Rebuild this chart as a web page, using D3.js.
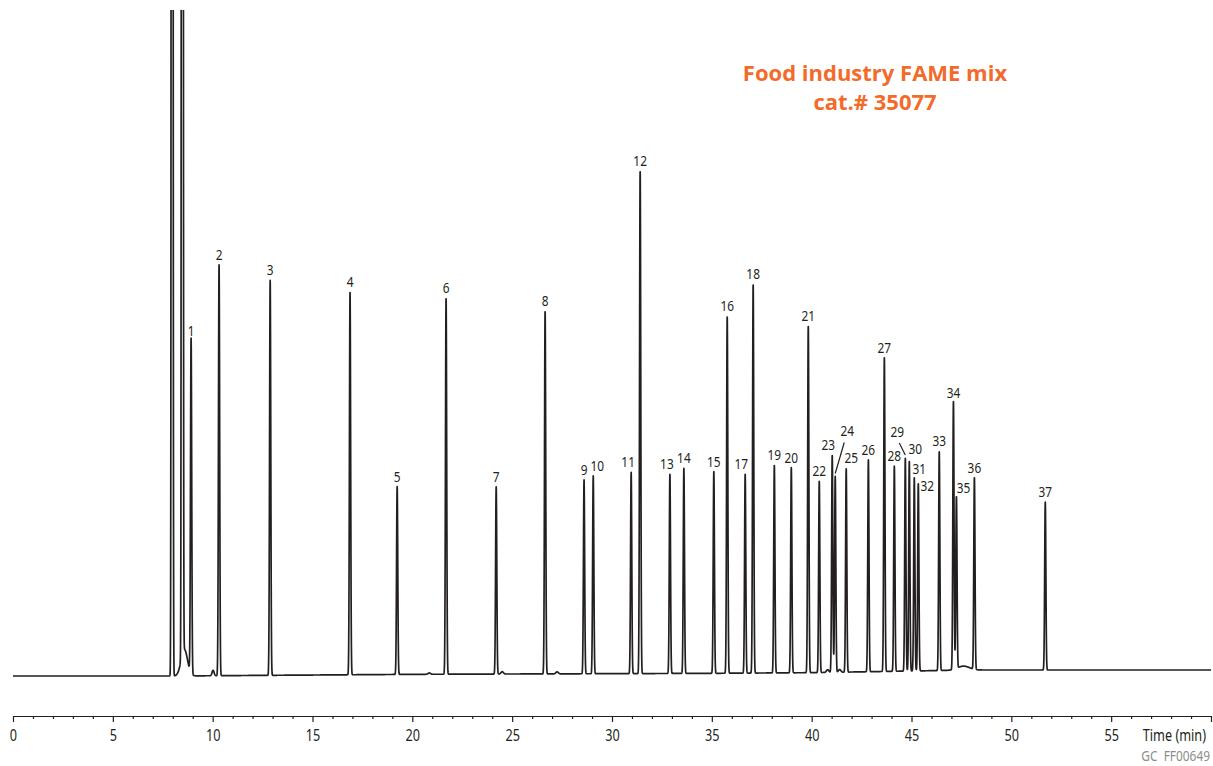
<!DOCTYPE html>
<html>
<head>
<meta charset="utf-8">
<script src="https://cdn.jsdelivr.net/npm/d3@7/dist/d3.min.js"></script>
<style>
  html, body { margin: 0; padding: 0; background: #ffffff; }
  svg { display: block; }
</style>
</head>
<body>
<svg id="chart" width="1213" height="766"></svg>
<script>
// ---------------- DATA ----------------
const peakNumbers = [1,2,3,4,5,6,7,8,9,10,11,12,13,14,15,16,17,18,19,20,21,22,23,24,25,26,27,28,29,30,31,32,33,34,35,36,37];
const retentionTimes = [8.92,10.32,12.88,16.88,19.24,21.69,24.20,26.65,28.60,29.06,30.96,31.41,32.90,33.60,35.10,35.77,36.67,37.07,38.13,38.98,39.83,40.38,41.03,41.18,41.73,42.84,43.64,44.14,44.69,44.89,45.14,45.34,46.39,47.10,47.25,48.15,51.70];
const peakHeights = [50.3,61.7,59.3,57.4,28.2,56.5,28.1,54.5,29.1,29.7,30.2,75.5,29.9,30.8,30.3,53.6,29.9,58.4,31.2,30.8,52.1,28.7,32.6,29.4,30.6,31.8,47.1,30.8,32.0,31.5,29.0,28.1,32.9,40.2,25.8,28.8,25.2];

// solvent peaks (off scale)
const solventTimes = [7.97, 8.48];
const solventHeights = [900, 1000];

// small unlabeled bumps / tailing on the trace
const minorTimes = [8.58, 10.02, 20.85, 24.50, 27.25, 40.80, 41.40, 47.60];
const minorHeights = [4.0, 0.8, 0.2, 0.35, 0.3, 0.4, 0.4, 0.6];
const minorWidths = [0.16, 0.05, 0.06, 0.06, 0.06, 0.06, 0.06, 0.3];

// baseline drift
const baselineTimes = [0, 8, 20, 35, 40, 45, 48, 60];
const baselineLevels = [0, 0, 0.25, 0.4, 0.5, 0.75, 0.9, 0.9];

// axis tick labels
const majorTicks = [0,5,10,15,20,25,30,35,40,45,50,55,60];
const majorTickLabels = ["0","5","10","15","20","25","30","35","40","45","50","55",""];

const titleLines = ["Food industry FAME mix", "cat.# 35077"];
const axisTitle = "Time (min)";
const figureCode = "GC  FF00649";

// ---------------- LAYOUT / STYLE ----------------
const inkColor = "#231f20";
const titleColor = "#f26b2a";
const labelFont = "'Noto Sans', 'Open Sans', sans-serif";
const condense = 0.82;           // horizontal squeeze to mimic the condensed face
const peakSigma = 0.03;          // drawing width of peaks (min)
const solventSigma = 0.026;

// label nudges in pixels, keyed by peak number
const labelNudge = {10:[4,0],11:[-3,0],13:[-3,0],17:[-4,0],23:[-4,0],24:[12,-35],25:[5,0],29:[-8,-16],30:[6,-2],31:[5,1],32:[9,12],35:[7,0]};
const leaderPeaks = [24, 29];

const svg = d3.select("#chart");
const W = 1213;

const x = d3.scaleLinear().domain([0, 60]).range([13, 1211]);
const y = d3.scaleLinear().domain([0, 100]).range([676, 10]);

svg.append("defs").append("clipPath").attr("id", "plotClip")
  .append("rect").attr("x", 0).attr("y", 10).attr("width", W).attr("height", 700);

// ---------------- TRACE ----------------
const baseline = d3.scaleLinear().domain(baselineTimes).range(baselineLevels);
const allPeaks = [];
retentionTimes.forEach((t, i) => allPeaks.push({t, h: peakHeights[i], s: peakSigma}));
solventTimes.forEach((t, i) => allPeaks.push({t, h: solventHeights[i], s: solventSigma}));
minorTimes.forEach((t, i) => allPeaks.push({t, h: minorHeights[i], s: minorWidths[i]}));

const step = 0.004;
const trace = [];
for (let t = 0; t <= 60.0001; t += step) {
  let v = baseline(t);
  for (const p of allPeaks) {
    const d = (t - p.t) / p.s;
    if (Math.abs(d) < 8) v += p.h * Math.exp(-0.5 * d * d);
  }
  trace.push([t, v]);
}

svg.append("path")
  .datum(trace)
  .attr("clip-path", "url(#plotClip)")
  .attr("fill", "none")
  .attr("stroke", inkColor)
  .attr("stroke-width", 1.7)
  .attr("stroke-linejoin", "round")
  .attr("d", d3.line().x(d => x(d[0])).y(d => y(d[1])));

// ---------------- PEAK LABELS ----------------
const labels = peakNumbers.map((n, i) => {
  const nudge = labelNudge[n] || [0, 0];
  const px = x(retentionTimes[i]);
  const py = y(peakHeights[i] + baseline(retentionTimes[i]));
  return {n, px, py, lx: px + nudge[0], ly: py - 5 + nudge[1]};
});

svg.append("g").selectAll("text")
  .data(labels).join("text")
  .attr("transform", d => `translate(${d.lx},${d.ly}) scale(${condense},1)`)
  .attr("text-anchor", "middle")
  .attr("font-family", labelFont)
  .attr("font-size", 14.5)
  .attr("fill", inkColor)
  .text(d => d.n);

svg.append("g").selectAll("line")
  .data(labels.filter(d => leaderPeaks.includes(d.n))).join("line")
  .attr("x1", d => d.lx + 0.25 * (d.px - d.lx))
  .attr("y1", d => d.ly + 6)
  .attr("x2", d => d.px)
  .attr("y2", d => d.py - 3)
  .attr("stroke", inkColor)
  .attr("stroke-width", 1.2);

// ---------------- AXIS ----------------
const axisY = 716;
const minorTicks = d3.range(0, 61, 1).filter(v => v % 5 !== 0);

const gMinor = svg.append("g").attr("transform", `translate(0,${axisY})`)
  .call(d3.axisBottom(x).tickValues(minorTicks).tickSize(3).tickSizeOuter(0).tickFormat(""));
gMinor.select(".domain").remove();

const gMajor = svg.append("g").attr("transform", `translate(0,${axisY})`)
  .call(d3.axisBottom(x).tickValues(majorTicks).tickSize(6).tickSizeOuter(0).tickPadding(8)
    .tickFormat((d, i) => majorTickLabels[i]));

svg.selectAll(".domain, .tick line").attr("stroke", inkColor).attr("stroke-width", 1.2);
gMajor.selectAll(".tick text")
  .attr("font-family", labelFont)
  .attr("font-size", 15.5)
  .attr("fill", inkColor)
  .attr("transform", `scale(${condense},1)`);

svg.append("text")
  .attr("transform", `translate(1206,741) scale(${condense},1)`)
  .attr("text-anchor", "end")
  .attr("font-family", labelFont)
  .attr("font-size", 15.5)
  .attr("fill", inkColor)
  .text(axisTitle);

svg.append("text")
  .attr("transform", `translate(1210,761) scale(${condense},1)`)
  .attr("text-anchor", "end")
  .attr("font-family", labelFont)
  .attr("font-size", 14.5)
  .attr("fill", "#8c8c8c")
  .attr("xml:space", "preserve")
  .style("white-space", "pre")
  .text(figureCode);

// ---------------- TITLE ----------------
svg.append("g").selectAll("text")
  .data(titleLines).join("text")
  .attr("x", 875)
  .attr("y", (d, i) => 81 + i * 29)
  .attr("text-anchor", "middle")
  .attr("font-family", "'Open Sans', 'Noto Sans', sans-serif")
  .attr("font-weight", 700)
  .attr("font-size", 22)
  .attr("fill", titleColor)
  .text(d => d);
</script>
</body>
</html>
